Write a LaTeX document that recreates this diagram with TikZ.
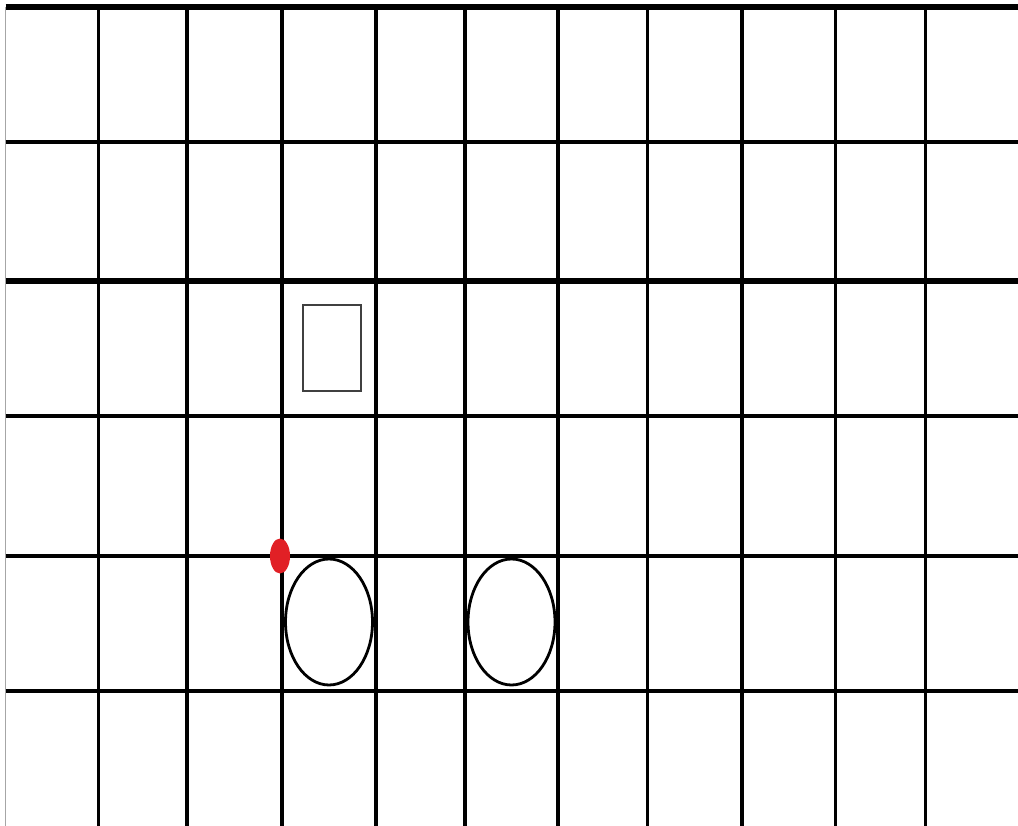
\documentclass[tikz,border=0pt]{standalone}
\usepackage{tikz}
\usetikzlibrary{calc}

\definecolor{dotred}{RGB}{225,32,38}

\begin{document}
\begin{tikzpicture}[x=1pt,y=-1pt]
	%% Frame of the picture (pixel units, y going down)
	\useasboundingbox (0,0) rectangle (1018,826);
	\fill[white] (0,0) rectangle (1018,826);

	%% Corners of the grid
	\coordinate (G1) at (5.5,7); % top left
	\coordinate (G2) at (1018,7); % top right

	%% Left border line (thin)
	\draw[line width=1.2pt, gray!70] (G1) -- (5.5,826);

	%% Vertical lines
	\foreach \x/\w in {98/3, 187/3.2, 282/4.2, 376/3.4, 465/3.2, 558/3.2, 647.5/3.2, 742/3.6, 835.5/3.2, 925.5/3.2}
	{
	  \draw[line width=\w pt] (\x,7) -- (\x,826);
	}

	%% Horizontal lines
	\foreach \y/\w in {7/5.2, 142/4.6, 281/6.2, 416/4.6, 556/4.6, 691/4.6}
	{
	  \draw[line width=\w pt] (5.5,\y) -- (1018,\y);
	}

	%% Small box
	\coordinate (B1) at (303,305);
	\coordinate (B2) at (361,391);
	\draw[line width=1.3pt, black!75] (B1) rectangle (B2);

	%% The two rings
	\coordinate (R1) at (329,622);
	\coordinate (R2) at (511.5,622);
	\draw[line width=2.8pt] (R1) ellipse [x radius=43.5, y radius=63];
	\draw[line width=2.8pt] (R2) ellipse [x radius=43.5, y radius=63];

	%% Red dot
	\coordinate (D1) at (280,556);
	\fill[dotred] (D1) ellipse [x radius=10, y radius=17.5];
\end{tikzpicture}
\end{document}
